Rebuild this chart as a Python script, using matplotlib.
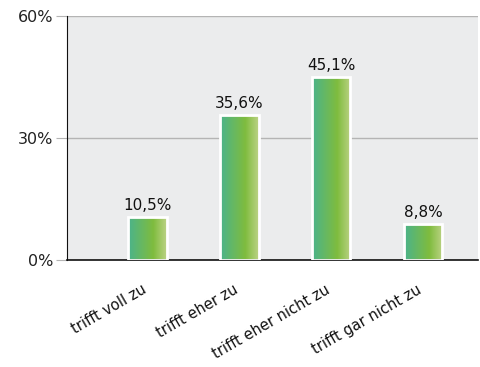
import numpy as np
import matplotlib.pyplot as plt
import matplotlib.transforms as mtransforms
from matplotlib.colors import LinearSegmentedColormap

categories = ['trifft voll zu', 'trifft eher zu', 'trifft eher nicht zu', 'trifft gar nicht zu']
values = [10.5, 35.6, 45.1, 8.8]
labels = ['10,5%', '35,6%', '45,1%', '8,8%']
yticks = [0, 30, 60]
ytick_labels = ['0%', '30%', '60%']

grad = LinearSegmentedColormap.from_list(
    'bar', [(0.0, '#4ab38c'), (0.65, '#7fbc3e'), (1.0, '#bdd386')])

fig = plt.figure(figsize=(4.8, 3.67), dpi=100)
ax = fig.add_axes([67 / 480, 1 - 260 / 367, 411 / 480, 244 / 367])
ax.set_facecolor('#ebeced')

x = np.arange(len(categories))
bars = ax.bar(x, values, width=0.42, facecolor='none', edgecolor='white',
              linewidth=2, zorder=3)
ramp = np.linspace(0, 1, 256).reshape(1, -1)
for b in bars:
    im = ax.imshow(ramp, cmap=grad, aspect='auto', zorder=2,
                   extent=[b.get_x(), b.get_x() + b.get_width(), 0, b.get_height()])
    im.set_clip_path(b)

for xi, v, t in zip(x, values, labels):
    ax.text(xi, v + 1.0, t, ha='center', va='bottom', fontsize=11, color='#111111')

ax.set_xlim(-0.88, 3.6)
ax.set_ylim(0, 60)
ax.set_yticks(yticks)
ax.set_yticklabels(ytick_labels, fontsize=11.5, color='#222222')
ax.yaxis.grid(True, color='#b4b4b4', linewidth=1, zorder=1)
ax.tick_params(axis='y', length=8, color='#b4b4b4', pad=2)
ax.set_xticks(x)
ax.set_xticklabels(categories, rotation=30, ha='right', rotation_mode='anchor',
                   fontsize=10.5, color='#111111')
ax.tick_params(axis='x', length=0, pad=16)
shift = mtransforms.ScaledTranslation(-6 / 100, 0, fig.dpi_scale_trans)
for lbl in ax.get_xticklabels():
    lbl.set_transform(lbl.get_transform() + shift)
for s in ['top', 'right']:
    ax.spines[s].set_visible(False)
ax.spines['left'].set_color('#111111')
ax.spines['bottom'].set_color('#111111')
ax.spines['bottom'].set_linewidth(1.2)

fig.savefig('out.png', dpi=100)
